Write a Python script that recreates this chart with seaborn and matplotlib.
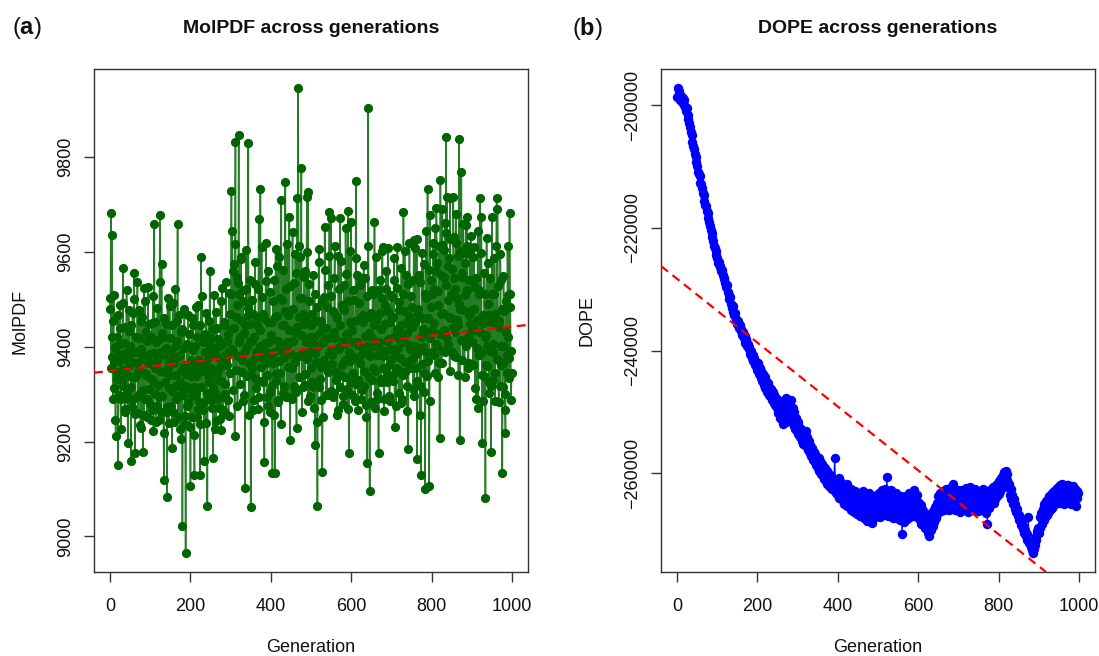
import numpy as np
import pandas as pd
import matplotlib
matplotlib.use("Agg")
import matplotlib.pyplot as plt
import seaborn as sns
from matplotlib.ticker import FixedLocator, FuncFormatter

# ---------------- data ----------------
# MolPDF at even generations (0, 2, ..., 998)
MOLPDF_EVEN = [
    9502, 9683, 9636, 9378, 9455, 9312, 9398, 9211, 9347, 9420, 9151, 9371, 9489, 9290, 9405, 9330, 9566, 9352, 9268, 9441, 9387, 9305, 9196, 9478, 9360,
    9402, 9158, 9336, 9471, 9289, 9556, 9175, 9390, 9342, 9537, 9261, 9418, 9302, 9455, 9228, 9375, 9177, 9524, 9344, 9290, 9432, 9251, 9526, 9365, 9310,
    9384, 9246, 9451, 9328, 9223, 9659, 9355, 9410, 9274, 9482, 9319, 9245, 9678, 9390, 9575, 9297, 9421, 9118, 9346, 9263, 9449, 9082, 9373, 9312, 9487,
    9340, 9275, 9186, 9493, 9366, 9241, 9402, 9318, 9455, 9659, 9296, 9380, 9227, 9431, 9352, 9021, 9310, 9398, 9254, 8964, 9343, 9276, 9468, 9361, 9230,
    9107, 9372, 9296, 9447, 9315, 9130, 9402, 9339, 9251, 9488, 9360, 9283, 9129, 9590, 9348, 9411, 9266, 9160, 9390, 9471, 9302, 9064, 9376, 9325, 9560,
    9287, 9419, 9345, 9166, 9510, 9302, 9385, 9243, 9440, 9330, 9271, 9402, 9358, 9224, 9524, 9367, 9294, 9446, 9321, 9259, 9412, 9380, 9287, 9513, 9345,
    9438, 9728, 9644, 9392, 9575, 9211, 9833, 9462, 9548, 9380, 9848, 9511, 9420, 9590, 9346, 9497, 9285, 9430, 9101, 9522, 9399, 9468, 9831, 9365, 9449,
    9061, 9412, 9355, 9470, 9287, 9532, 9390, 9331, 9445, 9268, 9669, 9402, 9733, 9378, 9505, 9326, 9461, 9156, 9392, 9620, 9340, 9274, 9560, 9411, 9305,
    9380, 9452, 9133, 9366, 9540, 9133, 9606, 9328, 9465, 9287, 9589, 9401, 9345, 9709, 9498, 9302, 9445, 9376, 9747, 9521, 9410, 9293, 9468, 9674, 9204,
    9410, 9355, 9642, 9480, 9318, 9432, 9556, 9229, 9714, 9947, 9462, 9590, 9381, 9777, 9502, 9316, 9448, 9560, 9343, 9410, 9716, 9727, 9388, 9532, 9296,
    9391, 9470, 9315, 9552, 9420, 9192, 9368, 9485, 9064, 9401, 9606, 9332, 9455, 9287, 9135, 9410, 9505, 9653, 9362, 9440, 9298, 9531, 9386, 9684, 9421,
    9672, 9364, 9476, 9302, 9545, 9418, 9330, 9460, 9267, 9591, 9395, 9672, 9341, 9488, 9410, 9296, 9530, 9372, 9650, 9428, 9311, 9686, 9175, 9452, 9370,
    9663, 9410, 9345, 9498, 9378, 9286, 9750, 9552, 9403, 9330, 9548, 9461, 9290, 9543, 9385, 9452, 9317, 9546, 9402, 9278, 9154, 9905, 9430, 9095, 9380,
    9471, 9330, 9512, 9402, 9663, 9348, 9456, 9290, 9520, 9175, 9398, 9471, 9333, 9502, 9611, 9380, 9290, 9448, 9560, 9412, 9325, 9476, 9362, 9286, 9510,
    9395, 9461, 9328, 9540, 9231, 9422, 9355, 9525, 9398, 9302, 9478, 9376, 9445, 9290, 9512, 9684, 9411, 9347, 9552, 9430, 9318, 9185, 9466, 9395, 9508,
    9372, 9441, 9310, 9625, 9402, 9608, 9355, 9164, 9480, 9392, 9536, 9318, 9129, 9460, 9400, 9575, 9345, 9099, 9502, 9432, 9734, 9370, 9106, 9679, 9485,
    9512, 9388, 9596, 9450, 9345, 9560, 9693, 9402, 9518, 9366, 9208, 9753, 9470, 9615, 9392, 9548, 9436, 9662, 9842, 9716, 9498, 9405, 9587, 9714, 9460,
    9512, 9390, 9716, 9545, 9432, 9620, 9378, 9502, 9445, 9838, 9203, 9480, 9768, 9556, 9412, 9598, 9336, 9510, 9657, 9674, 9420, 9365, 9540, 9448, 9634,
    9410, 9589, 9362, 9480, 9312, 9546, 9398, 9455, 9270, 9520, 9714, 9386, 9674, 9198, 9450, 9338, 9512, 9080, 9425, 9360, 9577, 9302, 9468, 9392, 9177,
    9674, 9405, 9330, 9512, 9286, 9448, 9714, 9690, 9372, 9455, 9318, 9540, 9402, 9134, 9366, 9475, 9300, 9219, 9432, 9345, 9510, 9376, 9682, 9485, 9288,
]
# MolPDF at odd generations (1, 3, ..., 999)
MOLPDF_ODD = [
    9480, 9355, 9421, 9290, 9510, 9367, 9245, 9402, 9333, 9468, 9298, 9385, 9440, 9226, 9351, 9492, 9318, 9407, 9262, 9375, 9520, 9341, 9289, 9433, 9372,
    9315, 9446, 9273, 9389, 9501, 9337, 9258, 9420, 9365, 9296, 9478, 9352, 9234, 9395, 9462, 9308, 9381, 9255, 9497, 9340, 9412, 9289, 9365, 9448, 9279,
    9421, 9332, 9267, 9508, 9387, 9301, 9452, 9241, 9372, 9415, 9293, 9536, 9348, 9262, 9430, 9384, 9219, 9461, 9325, 9397, 9272, 9502, 9356, 9240, 9418,
    9392, 9306, 9447, 9262, 9375, 9521, 9289, 9340, 9412, 9251, 9468, 9326, 9382, 9205, 9437, 9299, 9362, 9480, 9236, 9318, 9405, 9281, 9352, 9427, 9310,
    9338, 9460, 9251, 9394, 9213, 9356, 9485, 9301, 9420, 9268, 9372, 9446, 9237, 9315, 9507, 9349, 9283, 9426, 9361, 9240, 9418, 9297, 9455, 9336, 9402,
    9356, 9270, 9438, 9312, 9389, 9226, 9474, 9345, 9290, 9417, 9376, 9248, 9497, 9328, 9405, 9266, 9452, 9382, 9301, 9536, 9362, 9428, 9254, 9391, 9470,
    9512, 9395, 9561, 9308, 9440, 9617, 9352, 9489, 9276, 9534, 9410, 9321, 9585, 9456, 9372, 9520, 9298, 9447, 9392, 9604, 9338, 9481, 9255, 9413, 9542,
    9340, 9498, 9266, 9421, 9375, 9580, 9312, 9463, 9389, 9522, 9294, 9436, 9357, 9610, 9328, 9470, 9241, 9407, 9538, 9366, 9295, 9452, 9381, 9515, 9262,
    9425, 9318, 9497, 9256, 9388, 9462, 9342, 9571, 9283, 9413, 9370, 9502, 9236, 9447, 9391, 9563, 9318, 9475, 9402, 9295, 9618, 9357, 9436, 9528, 9385,
    9478, 9289, 9412, 9535, 9367, 9596, 9305, 9441, 9380, 9613, 9336, 9502, 9425, 9262, 9470, 9389, 9548, 9320, 9456, 9601, 9374, 9285, 9497, 9421, 9356,
    9447, 9326, 9403, 9271, 9512, 9386, 9454, 9242, 9368, 9578, 9315, 9429, 9357, 9496, 9251, 9440, 9372, 9563, 9299, 9418, 9483, 9346, 9591, 9392, 9306,
    9508, 9382, 9294, 9431, 9612, 9347, 9466, 9255, 9398, 9521, 9316, 9445, 9581, 9362, 9280, 9478, 9406, 9337, 9553, 9425, 9268, 9497, 9389, 9602, 9326,
    9435, 9298, 9520, 9376, 9454, 9587, 9321, 9410, 9266, 9492, 9365, 9531, 9402, 9308, 9468, 9573, 9349, 9423, 9251, 9508, 9387, 9612, 9336, 9462, 9283,
    9418, 9520, 9356, 9445, 9271, 9590, 9382, 9303, 9468, 9411, 9541, 9325, 9437, 9603, 9356, 9264, 9489, 9392, 9521, 9345, 9608, 9416, 9297, 9452, 9374,
    9506, 9341, 9462, 9587, 9382, 9274, 9438, 9610, 9350, 9495, 9413, 9282, 9566, 9427, 9340, 9476, 9603, 9368, 9451, 9265, 9532, 9404, 9620, 9356, 9442,
    9483, 9376, 9541, 9296, 9452, 9385, 9628, 9327, 9470, 9551, 9256, 9420, 9364, 9597, 9438, 9305, 9512, 9390, 9645, 9338, 9461, 9562, 9286, 9418, 9540,
    9436, 9620, 9382, 9521, 9650, 9405, 9577, 9336, 9488, 9612, 9427, 9552, 9366, 9690, 9472, 9605, 9389, 9530, 9640, 9418, 9571, 9463, 9348, 9628, 9510,
    9565, 9442, 9632, 9380, 9521, 9680, 9456, 9592, 9340, 9490, 9603, 9415, 9548, 9372, 9660, 9478, 9577, 9402, 9520, 9612, 9355, 9468, 9595, 9431, 9540,
    9478, 9362, 9610, 9435, 9527, 9290, 9456, 9645, 9382, 9511, 9431, 9598, 9340, 9467, 9285, 9556, 9420, 9362, 9630, 9401, 9490, 9326, 9545, 9452, 9318,
    9512, 9390, 9588, 9344, 9470, 9612, 9375, 9528, 9283, 9441, 9596, 9362, 9480, 9315, 9550, 9402, 9266, 9496, 9383, 9612, 9420, 9335, 9512, 9392, 9345,
]

# DOPE at generations 0, 2, ..., 998
GEN_STEP_B = 2
DOPE = [
    -198700, -197100, -198300, -197600, -199200, -198500, -199400, -198800, -199900, -199100, -200300, -200900, -200400, -201600, -202300, -202900, -203500, -204400, -204800, -205900, -206600, -207100, -207900, -208500, -209300,
    -209900, -210800, -211200, -211600, -212700, -212900, -213500, -214300, -214600, -215600, -216200, -216400, -217300, -217600, -218400, -219000, -219600, -220400, -220800, -221500, -222100, -222900, -223200, -223800, -224400,
    -224900, -225700, -225500, -226400, -226200, -227100, -226800, -227600, -228300, -228100, -229000, -229600, -229300, -230500, -230900, -231600, -231300, -232400, -233100, -232800, -233700, -234200, -233900, -234800, -235200,
    -235600, -235100, -236300, -235900, -236800, -236500, -237400, -237000, -238000, -237600, -238700, -238200, -239200, -239000, -239800, -239400, -240600, -240100, -241200, -240800, -241700, -241300, -242300, -241900, -242600,
    -243200, -242100, -243900, -242900, -244500, -243400, -245000, -243800, -245600, -244300, -246100, -244900, -246700, -245300, -247200, -245900, -247400, -246300, -248000, -246800, -248500, -247200, -248900, -247800, -249300,
    -248100, -250200, -248700, -251000, -249300, -251400, -249900, -252000, -250300, -248400, -251700, -247800, -250600, -248200, -251300, -248900, -250000, -248000, -251600, -249300, -252300, -250100, -252800, -251000, -253200,
    -251700, -253600, -252400, -254100, -252800, -254700, -253300, -255200, -253600, -254900, -253200, -255600, -254100, -256300, -254800, -256800, -255400, -257200, -255900, -257800, -256500, -258200, -256900, -258600, -257400,
    -259100, -257600, -259600, -258000, -260100, -258500, -260400, -258800, -261000, -259200, -261300, -259600, -261700, -260000, -262100, -260300, -262400, -260700, -262600, -261000, -262800, -257500, -261300, -263200, -261500,
    -263500, -260800, -264100, -261300, -263800, -261900, -264600, -262100, -265000, -262400, -264200, -261800, -265400, -262700, -264900, -263100, -266000, -262600, -265300, -263500, -266400, -263000, -265800, -263900, -266700,
    -263200, -266300, -263800, -267000, -264100, -266500, -262900, -267400, -264500, -266900, -263600, -267800, -264800, -266200, -263300, -267500, -265100, -268100, -264300, -266600, -263700, -267200, -264900, -266800, -263500,
    -266400, -263200, -267100, -264000, -265800, -262800, -266900, -263600, -265400, -262600, -266700, -260700, -264300, -267000, -263100, -265900, -262700, -266500, -263900, -267300, -264400, -266100, -263300, -267400, -264700,
    -266800, -264100, -267600, -263800, -266400, -270000, -265200, -268000, -264600, -266900, -263700, -267500, -264900, -266300, -263200, -267100, -264500, -266700, -263400, -265900, -262800, -266600, -264200, -267200, -263600,
    -266300, -264800, -267700, -265200, -268300, -265900, -267600, -266400, -269000, -266800, -268400, -267100, -269800, -267500, -270300, -266900, -269300, -267700, -268600, -266200, -268000, -265600, -267300, -264900, -266600,
    -263700, -265900, -263200, -266200, -264000, -265400, -262900, -266000, -263500, -265200, -262600, -265600, -263800, -266100, -262400, -265300, -263100, -264800, -261700, -265700, -262900, -266000, -263400, -265500, -262700,
    -265800, -263000, -266300, -263500, -265600, -262800, -266000, -263900, -265200, -262500, -265900, -263300, -266400, -263700, -264900, -262300, -265500, -263100, -266100, -263600, -265300, -262600, -265700, -263400, -266200,
    -263200, -265600, -262900, -266000, -263500, -265300, -262600, -265800, -263900, -266500, -263100, -268300, -264400, -265700, -262800, -265100, -263300, -264600, -262200, -264900, -262500, -264300, -261900, -263800, -261600,
    -263400, -261300, -262900, -260800, -262500, -260300, -261900, -259800, -261500, -259700, -261100, -260200, -262300, -261700, -263500, -262600, -264300, -263600, -265000, -264300, -265800, -265100, -266400, -265900, -267000,
    -266800, -267700, -267400, -268400, -268000, -269100, -268700, -269800, -269300, -270300, -270000, -270900, -267200, -271400, -271100, -272000, -271700, -272600, -273100, -272400, -271800, -270900, -270300, -269500, -268900,
    -269800, -267200, -268900, -266500, -268300, -265800, -267600, -265000, -267200, -264600, -266800, -264300, -266500, -263800, -266000, -263500, -265700, -263200, -265300, -262900, -265100, -262800, -264900, -262500, -264700,
    -262300, -264800, -262000, -264500, -261800, -264300, -262400, -265000, -262200, -264600, -262000, -264200, -261900, -264800, -262500, -265100, -262700, -264400, -262100, -264900, -262600, -265300, -262900, -264100, -263300,
]

# linear trend lines (intercept, slope)
MOLPDF_FIT = (9349.0, 0.0935)
DOPE_FIT = (-228300.0, -52.1)

X_TICKS = [0, 200, 400, 600, 800, 1000]
MOLPDF_TICKS = [9000, 9200, 9400, 9600, 9800]
DOPE_TICKS = [-200000, -220000, -240000, -260000]
TITLES = ["MolPDF across generations", "DOPE across generations"]
YLABELS = ["MolPDF", "DOPE"]
XLABEL = "Generation"
PANEL_TAGS = ["a", "b"]

# ---------------- styling ----------------
sns.set_theme(style="white")
plt.rcParams["font.family"] = ["Liberation Sans", "DejaVu Sans"]
plt.rcParams["mathtext.fontset"] = "custom"
plt.rcParams["mathtext.rm"] = "Liberation Sans"
plt.rcParams["mathtext.bf"] = "Liberation Sans:bold"
plt.rcParams["axes.unicode_minus"] = True

W, H = 1099, 656
fig = plt.figure(figsize=(W / 100, H / 100), dpi=100)
fig.patch.set_facecolor("white")

def px_axes(left, top, right, bottom):
    return fig.add_axes([left / W, 1 - bottom / H, (right - left) / W, (bottom - top) / H])

axA = px_axes(94, 69, 528, 572)
axB = px_axes(661, 69, 1095, 572)

molpdf = np.empty(len(MOLPDF_EVEN) + len(MOLPDF_ODD))
molpdf[0::2] = MOLPDF_EVEN
molpdf[1::2] = MOLPDF_ODD
dfA = pd.DataFrame({"gen": np.arange(len(molpdf)), "val": molpdf})
dfB = pd.DataFrame({"gen": np.arange(len(DOPE)) * GEN_STEP_B, "val": DOPE})

GREEN = "#006400"
BLUE = "#0000FF"

sns.scatterplot(data=dfA, x="gen", y="val", ax=axA, color=GREEN, s=44, linewidth=0, zorder=2, legend=False)
sns.lineplot(data=dfA, x="gen", y="val", ax=axA, color=GREEN, linewidth=1.15, alpha=0.85,
             estimator=None, sort=False, zorder=3, legend=False)

sns.lineplot(data=dfB, x="gen", y="val", ax=axB, color=BLUE, linewidth=0.9,
             estimator=None, sort=False, zorder=2, legend=False)
sns.scatterplot(data=dfB, x="gen", y="val", ax=axB, color=BLUE, s=46, linewidth=0, zorder=3, legend=False)

dash = (0, (4, 2.6))
axA.axline((0, MOLPDF_FIT[0]), slope=MOLPDF_FIT[1], color="red", lw=1.6, ls=dash, zorder=5)
axB.axline((0, DOPE_FIT[0]), slope=DOPE_FIT[1], color="red", lw=1.6, ls=dash, zorder=5)

def rlim(vals):
    lo, hi = float(np.min(vals)), float(np.max(vals))
    pad = 0.04 * (hi - lo)
    return lo - pad, hi + pad

fmt = FuncFormatter(lambda v, p: f"{v:.0f}".replace("-", "\u2212"))

for ax, df, yt, title, ylab, tag, ylx, tagx, xlx in [
    (axA, dfA, MOLPDF_TICKS, TITLES[0], YLABELS[0], PANEL_TAGS[0], 20, 12, 311),
    (axB, dfB, DOPE_TICKS, TITLES[1], YLABELS[1], PANEL_TAGS[1], 587, 572, 878),
]:
    ax.set_xlim(*rlim([0, 1000]))
    ax.set_ylim(*rlim(df["val"]))
    ax.xaxis.set_major_locator(FixedLocator(X_TICKS))
    ax.yaxis.set_major_locator(FixedLocator(yt))
    ax.xaxis.set_major_formatter(fmt)
    ax.yaxis.set_major_formatter(fmt)
    for s in ax.spines.values():
        s.set_visible(True)
        s.set_color("#333333")
        s.set_linewidth(1.0)
    ax.tick_params(axis="both", which="major", direction="out", length=7.5, width=1.0,
                   color="#333333", labelsize=13, labelcolor="#111111",
                   bottom=True, left=True)
    ax.tick_params(axis="x", pad=11)
    ax.tick_params(axis="y", pad=7, labelrotation=90)
    for lab in ax.get_yticklabels():
        lab.set_va("center")
    ax.set_xlabel("")
    ax.set_ylabel("")
    ax.set_title(title, fontsize=14, fontweight="bold", pad=26, color="#111111")
    fig.text(xlx / W, 1 - 648 / H, XLABEL, ha="center", va="center",
             fontsize=13, color="#111111")
    fig.text(ylx / W, 1 - 321 / H, ylab, ha="center", va="center", rotation=90,
             fontsize=13, color="#111111")
    fig.text(tagx / W, 1 - 28 / H, r"($\mathbf{" + tag + r"}$)", ha="left", va="center",
             fontsize=17, color="#111111")

fig.savefig("out.png", dpi=100, facecolor="white")
